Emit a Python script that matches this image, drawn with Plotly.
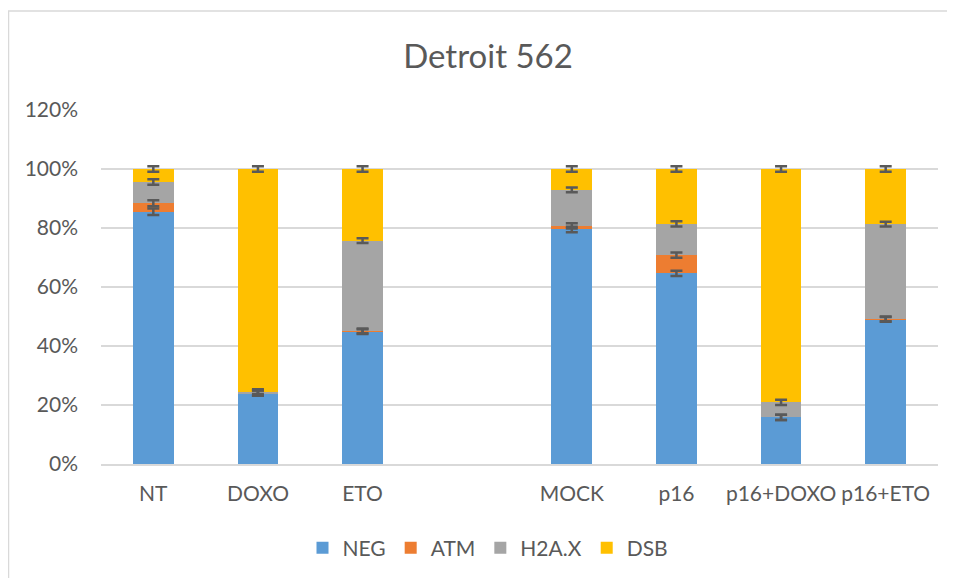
import plotly.graph_objects as go

categories = ["NT", "DOXO", "ETO", "MOCK", "p16", "p16+DOXO", "p16+ETO"]
axis_order = ["NT", "DOXO", "ETO", " ", "MOCK", "p16", "p16+DOXO", "p16+ETO"]

neg = [85.5, 24.0, 44.9, 79.5, 64.6, 15.8, 49.0]
atm = [2.9, 0.0, 0.2, 1.2, 6.2, 0.0, 0.2]
h2ax = [7.2, 0.5, 30.6, 12.2, 10.6, 5.1, 32.1]
dsb = [4.4, 75.5, 24.3, 7.1, 18.6, 79.1, 18.7]

neg_err = [1.1, 0.9, 0.8, 0.9, 0.9, 0.9, 0.8]
atm_err = [1.0, 0.9, 0.8, 0.9, 0.9, 0.9, 0.8]
h2ax_err = [0.9, 0.8, 0.8, 0.8, 0.9, 0.9, 0.8]
dsb_err = [0.9, 0.9, 0.9, 0.9, 0.9, 0.9, 0.9]

y_ticks = [0, 20, 40, 60, 80, 100, 120]
y_tick_labels = ["0%", "20%", "40%", "60%", "80%", "100%", "120%"]

series = [
    ("NEG", neg, neg_err, "#5B9BD5"),
    ("ATM", atm, atm_err, "#ED7D31"),
    ("H2A.X", h2ax, h2ax_err, "#A5A5A5"),
    ("DSB", dsb, dsb_err, "#FFC000"),
]

FONT = "Lato"
TXT = "#595959"
W, H = 947, 570
L, R, T, B = 93, 17, 102, 114
PW, PH = W - L - R, H - T - B

fig = go.Figure()
for name, vals, errs, color in series:
    fig.add_trace(go.Bar(
        x=categories, y=vals, name=name,
        marker=dict(color=color, line=dict(width=0)),
    ))

# error bars drawn on top of all stacked segments (at each segment's cumulative top)
cum = [0.0] * len(categories)
for name, vals, errs, color in series:
    cum = [c + v for c, v in zip(cum, vals)]
    fig.add_trace(go.Scatter(
        x=categories, y=cum, mode="markers",
        marker=dict(size=1, opacity=0),
        error_y=dict(type="data", array=errs, visible=True,
                     color="#595959", thickness=2.5, width=6),
        showlegend=False, hoverinfo="skip",
    ))

fig.update_layout(
    barmode="stack",
    bargap=0.61,
    width=W, height=H,
    margin=dict(l=L, r=R, t=T, b=B, autoexpand=False),
    paper_bgcolor="white",
    plot_bgcolor="white",
    font=dict(family=FONT, color=TXT, size=21),
    title=dict(text="Detroit 562", x=480 / W, xanchor="center",
               y=1 - 48 / H, yanchor="middle",
               font=dict(family=FONT, size=33, color=TXT)),
    xaxis=dict(type="category", categoryorder="array", categoryarray=axis_order,
               range=[-0.5, 7.5], showgrid=False, showline=True,
               linecolor="#d9d9d9", linewidth=1.5, ticks="",
               ticklabelstandoff=10,
               tickfont=dict(size=21, color=TXT)),
    yaxis=dict(range=[0, 120], tickvals=y_ticks, ticktext=y_tick_labels,
               showgrid=True, gridcolor="#d9d9d9", gridwidth=1.5,
               zeroline=False, showline=False, ticks="",
               ticklabelstandoff=22,
               tickfont=dict(size=21, color=TXT)),
    legend=dict(orientation="h", x=(480 - L) / PW, xanchor="center",
                y=-(540 - (T + PH)) / PH, yanchor="middle",
                font=dict(size=21, color=TXT),
                itemwidth=30, traceorder="normal", tracegroupgap=0),
    shapes=[
        dict(type="line", xref="paper", yref="paper", x0=-L / PW, x1=1.05,
             y0=1 + (T - 3) / PH, y1=1 + (T - 3) / PH,
             line=dict(color="#d9d9d9", width=1.5)),
        dict(type="line", xref="paper", yref="paper", x0=-L / PW + 0.5 / PW,
             x1=-L / PW + 0.5 / PW,
             y0=1 + (T - 3) / PH, y1=-0.4,
             line=dict(color="#d9d9d9", width=1.5)),
    ],
)

fig.write_html("out.html")
